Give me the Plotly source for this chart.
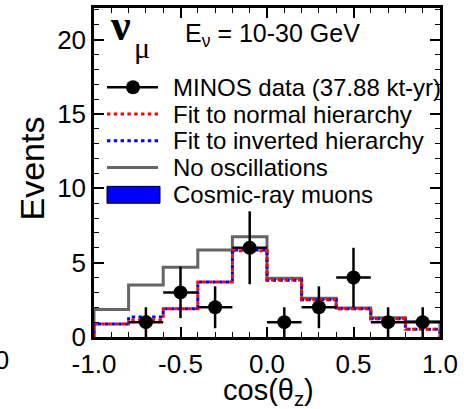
import plotly.graph_objects as go

# ---------------- data ----------------
bin_edges = [-1.0, -0.8, -0.6, -0.4, -0.2, 0.0, 0.2, 0.4, 0.6, 0.8, 1.0]
bin_centers = [-0.9, -0.7, -0.5, -0.3, -0.1, 0.1, 0.3, 0.5, 0.7, 0.9]

no_osc = [1.85, 3.5, 4.7, 5.85, 6.75, 3.95, 2.6, 1.95, 1.3, 1.05]
fit_normal = [0.88, 1.15, 1.9, 3.7, 5.8, 3.83, 2.5, 1.9, 1.22, 0.52]
fit_inverted = [0.88, 1.35, 1.9, 3.7, 5.85, 3.82, 2.5, 1.9, 1.22, 0.52]
cosmic = [0.0, 0.0, 0.0, 0.0, 0.0, 0.0, 0.0, 0.0, 0.0, 0.0]

data_x = [-0.7, -0.5, -0.3, -0.1, 0.1, 0.3, 0.5, 0.7, 0.9]
data_y = [1, 3, 2, 6, 1, 2, 4, 1, 1]
data_err = [1.0, 1.73, 1.41, 2.45, 1.0, 1.41, 2.0, 1.0, 1.0]
data_xerr = [0.1, 0.1, 0.1, 0.1, 0.1, 0.1, 0.1, 0.1, 0.1]

x_tickvals = [-1.0, -0.5, 0.0, 0.5, 1.0]
x_ticktext = ["-1.0", "-0.5", "0.0", "0.5", "1.0"]
y_tickvals = [0, 5, 10, 15, 20]
y_ticktext = ["0", "5", "10", "15", "20"]

legend_labels = ["MINOS data (37.88 kt-yr)", "Fit to normal hierarchy",
                 "Fit to inverted hierarchy", "No oscillations", "Cosmic-ray muons"]

# ---------------- geometry helpers (pixels -> paper) ----------------
W, H = 464, 409
L, R, T, B = 94, 440, 5, 337


def px(x):
    return (x - L) / (R - L)


def py(y):
    return (B - y) / (B - T)


def step(vals):
    xs = [bin_edges[0]] + bin_edges + [bin_edges[-1]]
    ys = [0] + vals + [vals[-1], 0]
    return xs, ys


FONT = "Liberation Sans, Arial, sans-serif"
SERIF = "Liberation Serif, Times New Roman, serif"
RED = "#ff0000"
BLUE = "#0000ff"
GRAY = "#656565"

fig = go.Figure()

# cosmic-ray muons (filled)
fig.add_trace(go.Bar(x=bin_centers, y=cosmic, width=0.2, marker=dict(color=BLUE, line=dict(width=0)),
                     showlegend=False, name=legend_labels[4]))

xs, ys = step(no_osc)
fig.add_trace(go.Scatter(x=xs, y=ys, mode="lines", line=dict(color=GRAY, width=3, shape="hv"),
                         showlegend=False, name=legend_labels[3]))
xs, ys = step(fit_inverted)
fig.add_trace(go.Scatter(x=xs, y=ys, mode="lines",
                         line=dict(color=BLUE, width=3, shape="hv", dash="0px,3.4px,3.4px,0px"),
                         showlegend=False, name=legend_labels[2]))
xs, ys = step(fit_normal)
fig.add_trace(go.Scatter(x=xs, y=ys, mode="lines",
                         line=dict(color=RED, width=3, shape="hv", dash="3.4px,3.4px"),
                         showlegend=False, name=legend_labels[1]))

fig.add_trace(go.Scatter(x=data_x, y=data_y, mode="markers",
                         marker=dict(color="black", size=14),
                         error_y=dict(type="data", array=data_err, color="black", thickness=2.5, width=0),
                         error_x=dict(type="data", array=data_xerr, color="black", thickness=2.5, width=0),
                         showlegend=False, name=legend_labels[0]))

# ---------------- hand-drawn legend ----------------
rows = [85, 112, 139, 166, 193]
shapes = []
x0, x1 = px(107), px(158)
shapes.append(dict(type="line", xref="paper", yref="paper", x0=x0, x1=x1, y0=py(rows[0]), y1=py(rows[0]),
                   line=dict(color="black", width=2.5)))
shapes.append(dict(type="circle", xref="paper", yref="paper", x0=px(126), x1=px(140),
                   y0=py(rows[0] + 7), y1=py(rows[0] - 7), fillcolor="black", line=dict(color="black", width=0)))
shapes.append(dict(type="line", xref="paper", yref="paper", x0=x0, x1=x1, y0=py(rows[1]), y1=py(rows[1]),
                   line=dict(color=RED, width=3, dash="3.4px,3.4px")))
shapes.append(dict(type="line", xref="paper", yref="paper", x0=x0, x1=x1, y0=py(rows[2]), y1=py(rows[2]),
                   line=dict(color=BLUE, width=3, dash="3.4px,3.4px")))
shapes.append(dict(type="line", xref="paper", yref="paper", x0=x0, x1=x1, y0=py(rows[3]), y1=py(rows[3]),
                   line=dict(color=GRAY, width=3)))
shapes.append(dict(type="rect", xref="paper", yref="paper", x0=px(107), x1=px(160),
                   y0=py(rows[4] + 9), y1=py(rows[4] - 8), fillcolor=BLUE, line=dict(color="black", width=1)))

annotations = []
for lab, r in zip(legend_labels, rows):
    annotations.append(dict(text=lab, xref="paper", yref="paper", x=px(171), y=py(r),
                            xanchor="left", yanchor="middle", showarrow=False,
                            font=dict(family=FONT, size=24, color="black")))

# labels inside the frame
annotations.append(dict(text="ν", xref="paper", yref="paper", x=px(108), y=py(23),
                        xanchor="left", yanchor="middle", showarrow=False,
                        font=dict(family=SERIF, size=44, color="black", weight="bold")))
annotations.append(dict(text="μ", xref="paper", yref="paper", x=px(132), y=py(45),
                        xanchor="left", yanchor="middle", showarrow=False,
                        font=dict(family=SERIF, size=30, color="black")))
annotations.append(dict(text="E<sub>ν</sub> = 10-30 GeV", xref="paper", yref="paper", x=px(183), y=py(32),
                        xanchor="left", yanchor="middle", showarrow=False,
                        font=dict(family=FONT, size=25, color="black")))

# axis titles
annotations.append(dict(text="Events", xref="paper", yref="paper", x=px(32), y=py(167),
                        xanchor="center", yanchor="middle", showarrow=False, textangle=-90,
                        font=dict(family=FONT, size=34, color="black")))
annotations.append(dict(text="cos(θ<sub>z</sub>)", xref="paper", yref="paper", x=px(268), y=py(392),
                        xanchor="center", yanchor="middle", showarrow=False,
                        font=dict(family=FONT, size=29, color="black")))
# fragment of neighbouring panel's tick label
annotations.append(dict(text="1.0", xref="paper", yref="paper", x=px(11), y=py(360),
                        xanchor="right", yanchor="middle", showarrow=False,
                        font=dict(family=FONT, size=26, color="black")))

fig.update_layout(
    width=W, height=H,
    margin=dict(l=L, r=W - R, t=T, b=H - B, pad=0),
    paper_bgcolor="white", plot_bgcolor="white",
    showlegend=False,
    shapes=shapes, annotations=annotations,
    bargap=0,
    xaxis=dict(range=[-1.0, 1.0], tickvals=x_tickvals, ticktext=x_ticktext,
               ticks="inside", ticklen=10, tickwidth=1.5, tickcolor="black",
               minor=dict(dtick=0.1, ticks="inside", ticklen=5, tickwidth=1.2, tickcolor="black"),
               showline=True, linecolor="black", linewidth=2.5, mirror="ticks",
               showgrid=False, zeroline=False, ticklabelstandoff=2,
               tickfont=dict(family=FONT, size=26, color="black")),
    yaxis=dict(range=[0, 22.13], tickvals=y_tickvals, ticktext=y_ticktext,
               ticks="inside", ticklen=10, tickwidth=1.5, tickcolor="black",
               minor=dict(dtick=1, ticks="inside", ticklen=5, tickwidth=1.2, tickcolor="black"),
               showline=True, linecolor="black", linewidth=2.5, mirror="ticks",
               showgrid=False, zeroline=False,
               tickfont=dict(family=FONT, size=26, color="black")),
)

fig.write_html("out.html")
